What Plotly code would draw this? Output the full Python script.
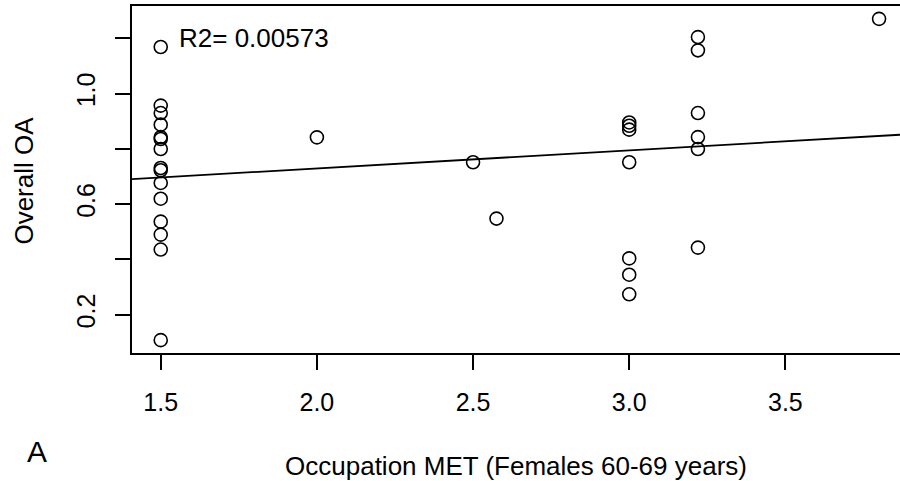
import plotly.graph_objects as go

# Occupation MET vs Overall OA (females 60-69)
met = [1.5] * 15 + [2.0, 2.5, 2.575] + [3.0] * 7 + [3.22] * 6 + [3.8]
overall_oa = [1.169, 0.957, 0.930, 0.888, 0.843, 0.836, 0.800, 0.731, 0.723,
              0.677, 0.620, 0.537, 0.490, 0.436, 0.108,
              0.842, 0.752, 0.548,
              0.896, 0.884, 0.870, 0.752, 0.404, 0.345, 0.274,
              1.205, 1.157, 0.930, 0.843, 0.800, 0.443,
              1.271]

# fitted line
fit_intercept = 0.599
fit_slope = 0.0653
r2_label = "R2= 0.00573"

x_ticks = [1.5, 2.0, 2.5, 3.0, 3.5]
x_ticktext = ["1.5", "2.0", "2.5", "3.0", "3.5"]
y_ticks = [0.2, 0.4, 0.6, 0.8, 1.0, 1.2]
y_ticktext = ["0.2", "", "0.6", "", "1.0", ""]

W, H = 900, 481
ml, mr, mt, mb = 131.5, 0, 6, 128
x_range = [1.408, 3.867]
y_range = [0.0615, 1.3175]

font = "Liberation Sans, Arial, sans-serif"

line_x = [1.408, 3.892]
line_y = [fit_intercept + fit_slope * v for v in line_x]

fig = go.Figure()
fig.add_trace(go.Scatter(
    x=line_x, y=line_y, mode="lines",
    line=dict(color="black", width=1.8), hoverinfo="skip"))
fig.add_trace(go.Scatter(
    x=met, y=overall_oa, mode="markers",
    marker=dict(symbol="circle-open", size=13, color="black",
                line=dict(width=1.6, color="black"))))

fig.add_annotation(x=1.8, y=1.2, xref="x", yref="y", text=r2_label,
                   showarrow=False, font=dict(size=26, color="black", family=font),
                   xanchor="center", yanchor="middle")

pw = W - ml - mr
ph = H - mt - mb
# panel letter
fig.add_annotation(x=(36.7 - ml) / pw, y=(H - mb - 451) / ph,
                   xref="paper", yref="paper", text="A", showarrow=False,
                   font=dict(size=30, color="black", family=font),
                   xanchor="center", yanchor="middle")
# y axis title (placed by hand, standoff is capped by the margin)
fig.add_annotation(x=(23 - ml) / pw, y=(H - mb - 181) / ph,
                   xref="paper", yref="paper", text="Overall OA", showarrow=False,
                   textangle=-90, font=dict(size=26, color="black", family=font),
                   xanchor="center", yanchor="middle")

fig.update_layout(
    width=W, height=H,
    margin=dict(l=ml, r=mr, t=mt, b=mb, pad=0, autoexpand=False),
    plot_bgcolor="white", paper_bgcolor="white",
    showlegend=False,
    font=dict(family=font, size=25, color="black"),
    xaxis=dict(range=x_range, tickvals=x_ticks, ticktext=x_ticktext,
               automargin=False,
               showgrid=False, zeroline=False, showline=True, mirror=True,
               linecolor="black", linewidth=2, ticks="outside", ticklen=15,
               tickwidth=1.5, tickcolor="black", ticklabelstandoff=11,
               title=dict(text="Occupation MET (Females 60-69 years)", standoff=42,
                          font=dict(size=26, family=font, color="black"))),
    yaxis=dict(range=y_range, tickvals=y_ticks, ticktext=y_ticktext,
               automargin=False,
               showgrid=False, zeroline=False, showline=True, mirror=False,
               linecolor="black", linewidth=2, ticks="outside", ticklen=15,
               tickwidth=1.5, tickcolor="black", tickangle=-90,
               ticklabelstandoff=10),
)

fig.write_html("out.html", config={"displayModeBar": False},
               post_script="document.body.style.margin='0px';")
